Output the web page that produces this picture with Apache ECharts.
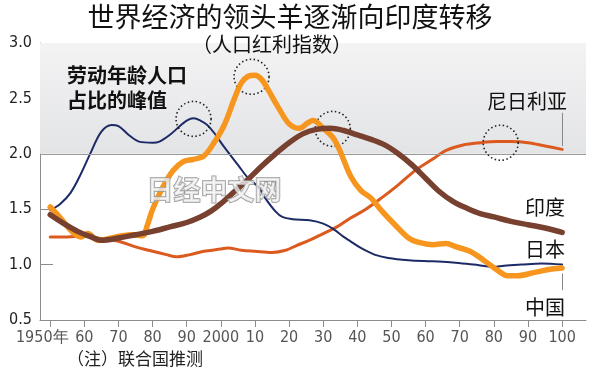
<!DOCTYPE html>
<html><head><meta charset="utf-8">
<script src="https://cdn.jsdelivr.net/npm/echarts@6/dist/echarts.min.js"></script>
<style>html,body{margin:0;padding:0;background:#fff}#c{width:600px;height:371px}</style>
</head><body><div id="c"></div>
<script>
const xTicks = [1950,1960,1970,1980,1990,2000,2010,2020,2030,2040,2050,2060,2070,2080,2090,2100];
const yTicks = [0.5,1.0,1.5,2.0,2.5,3.0];

const japan = [[1950,1.49],[1953,1.55],[1956,1.65],[1959,1.82],[1962,2.02],[1965,2.20],[1968,2.26],[1970,2.25],[1973,2.17],[1976,2.11],[1980,2.10],[1982,2.11],[1985,2.17],[1988,2.25],[1990,2.30],[1992,2.32],[1994,2.30],[1996,2.26],[1998,2.19],[2001,2.06],[2005,1.90],[2008,1.78],[2011,1.70],[2013,1.60],[2016,1.48],[2018,1.43],[2021,1.41],[2026,1.40],[2030,1.37],[2033,1.32],[2036,1.25],[2038,1.21],[2041,1.15],[2045,1.09],[2049,1.06],[2055,1.04],[2062,1.03],[2068,1.02],[2074,1.00],[2080,0.98],[2083,0.99],[2088,1.00],[2094,1.01],[2100,1.00]];

const china = [[1950,1.52],[1953,1.42],[1956,1.31],[1959,1.25],[1961,1.28],[1964,1.22],[1968,1.24],[1971,1.26],[1974,1.27],[1977,1.26],[1978.5,1.36],[1980,1.50],[1983,1.70],[1986,1.85],[1989,1.93],[1992,1.95],[1995,1.98],[1998,2.10],[2001,2.26],[2004,2.50],[2006,2.64],[2008,2.70],[2010,2.71],[2012,2.67],[2014,2.57],[2017,2.41],[2020,2.27],[2023,2.23],[2025.5,2.28],[2027,2.30],[2030,2.23],[2033,2.14],[2035,2.02],[2038,1.80],[2041,1.67],[2044,1.60],[2047,1.49],[2051,1.36],[2055,1.24],[2058,1.20],[2062,1.18],[2066,1.19],[2069,1.16],[2073,1.12],[2077,1.04],[2081,0.95],[2084,0.90],[2087,0.90],[2092,0.93],[2097,0.96],[2100,0.97]];

const india = [[1950,1.45],[1954,1.37],[1958,1.30],[1962,1.25],[1965,1.22],[1970,1.24],[1975,1.27],[1980,1.30],[1985,1.34],[1990,1.38],[1994,1.43],[1997,1.48],[2000,1.55],[2004,1.66],[2008,1.77],[2012,1.89],[2016,2.00],[2020,2.10],[2024,2.18],[2028,2.22],[2032,2.23],[2036,2.21],[2040,2.17],[2044,2.13],[2048,2.08],[2052,2.00],[2056,1.90],[2060,1.78],[2064,1.66],[2068,1.57],[2072,1.51],[2076,1.46],[2080,1.43],[2085,1.39],[2090,1.36],[2095,1.33],[2100,1.29]];

const nigeria = [[1950,1.25],[1955,1.25],[1960,1.26],[1964,1.24],[1970,1.21],[1975,1.16],[1980,1.12],[1984,1.09],[1987,1.07],[1991,1.09],[1995,1.12],[2000,1.14],[2002,1.15],[2006,1.13],[2010,1.12],[2015,1.11],[2019,1.13],[2022,1.17],[2026,1.22],[2030,1.28],[2034,1.34],[2038,1.42],[2042,1.49],[2047,1.60],[2052,1.72],[2057,1.85],[2062,1.95],[2066,2.03],[2071,2.08],[2076,2.10],[2081,2.11],[2085,2.11],[2090,2.10],[2095,2.07],[2100,2.04]];

const peaks = [[1992,2.315],[2009,2.695],[2032.8,2.225],[2082,2.10]];

const CJK = "'Noto Sans CJK SC', sans-serif";
const NUM = "'Liberation Sans Narrow', 'DejaVu Sans Condensed', 'Liberation Sans', sans-serif";

const chart = echarts.init(document.getElementById('c'), null, {renderer:'canvas'});

function line(name, data, color, width, z, extra) {
  return Object.assign({
    name, type:'line', data, smooth:0.35, showSymbol:false, symbol:'none', z,
    lineStyle:{color, width, cap:'round', join:'round'}, animation:false
  }, extra || {});
}

const option = {
  animation:false,
  grid:{left:40, right:14, top:43, bottom:51},
  xAxis:{
    type:'value', min:1947, max:2107,
    axisLine:{show:true, lineStyle:{color:'#8c8c8c', width:1}},
    axisTick:{show:true, customValues:xTicks, length:7, lineStyle:{color:'#8c8c8c'}},
    axisLabel:{customValues:xTicks, color:'#555', fontSize:16, fontFamily:NUM, margin:10,
      formatter:v=> v===1950 ? '{y|1950年}' : (v===2000 ? '2000' : (v===2100 ? '100' : String(v%100))),
      rich:{y:{fontSize:16, fontFamily:NUM, color:'#555', padding:[0,16,0,0]}}},
    splitLine:{show:false}
  },
  yAxis:{
    type:'value', min:0.5, max:3.0, interval:0.5,
    axisLine:{show:true, lineStyle:{color:'#8c8c8c', width:1}},
    axisTick:{show:true, inside:true, length:13, lineStyle:{color:'#8c8c8c'}},
    axisLabel:{color:'#222', fontSize:16, fontFamily:NUM, margin:8, formatter:v=>v.toFixed(1)},
    splitLine:{show:false}
  },
  series:[
    line('尼日利亚', nigeria, '#dd5a1f', 3, 3, {
      markArea:{silent:true, z:1, itemStyle:{color:{type:'linear',x:0,y:0,x2:0,y2:1,colorStops:[{offset:0,color:'#f3f3f4'},{offset:1,color:'#e3e4e6'}]}},
        data:[[{yAxis:2.0},{yAxis:3.0}]]},
      markLine:{silent:true, symbol:'none', label:{show:false},
        data:[
          {yAxis:2.0, lineStyle:{color:'#9a9a9a', width:1.2, type:'solid'}},
          [{coord:[2100,2.37], lineStyle:{color:'#888', width:1, type:'solid'}},{coord:[2100,2.07]}],
          [{coord:[2100,0.92], lineStyle:{color:'#888', width:1, type:'solid'}},{coord:[2100,0.77]}]
        ]}
    }),
    line('日本', japan, '#1c2a66', 2, 4),
    line('中国', china, '#f7961e', 5.5, 5),
    line('印度', india, '#77402f', 5.5, 6, {
      markPoint:{silent:true, symbol:'circle', symbolSize:35, label:{show:false},
        itemStyle:{color:'rgba(0,0,0,0)', borderColor:'#222', borderWidth:1.6, borderType:[1.5,2.5]},
        data: peaks.map(p=>({coord:p}))}
    })
  ],
  graphic:[
    {type:'text', x:290, y:17, z:100, style:{text:'世界经济的领头羊逐渐向印度转移', font:`27px ${CJK}`, fill:'#111', align:'center', verticalAlign:'middle'}},
    {type:'text', x:272, y:44, z:100, style:{text:'（人口红利指数）', font:`20px ${CJK}`, fill:'#111', align:'center', verticalAlign:'middle'}},
    {type:'text', x:67, y:75, z:100, style:{text:'劳动年龄人口', font:`bold 20px ${CJK}`, fill:'#111', verticalAlign:'middle'}},
    {type:'text', x:67, y:100, z:100, style:{text:'占比的峰值', font:`bold 20px ${CJK}`, fill:'#111', verticalAlign:'middle'}},
    {type:'text', x:567, y:101, z:100, style:{text:'尼日利亚', font:`20px ${CJK}`, fill:'#111', align:'right', verticalAlign:'middle'}},
    {type:'text', x:565, y:207, z:100, style:{text:'印度', font:`20px ${CJK}`, fill:'#111', align:'right', verticalAlign:'middle'}},
    {type:'text', x:565, y:249, z:100, style:{text:'日本', font:`20px ${CJK}`, fill:'#111', align:'right', verticalAlign:'middle'}},
    {type:'text', x:565, y:307, z:100, style:{text:'中国', font:`20px ${CJK}`, fill:'#111', align:'right', verticalAlign:'middle'}},
    {type:'text', x:214, y:190, z:90, style:{text:'日经中文网', font:`bold 27px ${CJK}`, fill:'rgba(240,240,240,0.75)', stroke:'#999', lineWidth:1.5, align:'center', verticalAlign:'middle'}},
    {type:'text', x:67, y:359, z:100, style:{text:'（注）联合国推测', font:`17px ${CJK}`, fill:'#222', verticalAlign:'middle'}}
  ]
};
chart.setOption(option);
</script></body></html>
